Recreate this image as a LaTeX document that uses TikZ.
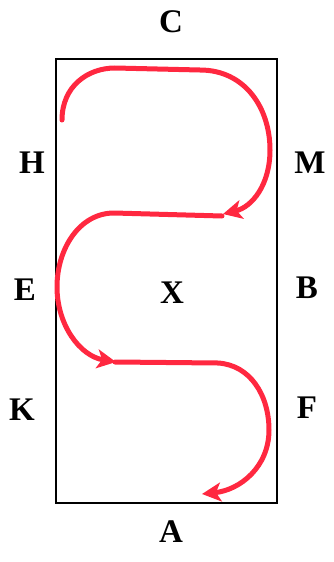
\documentclass[tikz,border=0pt]{standalone}
\usepackage{fontspec}
\setmainfont{Liberation Serif}
\usetikzlibrary{arrows.meta}
\definecolor{redpath}{RGB}{255,40,64}
\tikzset{
  lbl/.style={font=\fontsize{33}{33}\selectfont\bfseries, inner sep=0pt},
  route/.style={draw=redpath, line width=5pt, line cap=round},
  routearrow/.style={route, -{Stealth[length=19pt,width=19pt,inset=5pt]}},
  arena/.style={draw=black, line width=2.5pt}
}
\begin{document}
\begin{tikzpicture}[x=1pt,y=-1pt]
\useasboundingbox (0,0) rectangle (333,562);
\draw[arena] (56,59) rectangle (277,503);
\node[lbl] (C) at (171,22) {C};
\node[lbl] (H) at (32,163) {H};
\node[lbl] (M) at (310,163) {M};
\node[lbl] (E) at (25,290) {E};
\node[lbl] (X) at (172,293) {X};
\node[lbl] (B) at (307,288) {B};
\node[lbl] (K) at (22,410) {K};
\node[lbl] (F) at (307,408) {F};
\node[lbl] (A) at (171,532) {A};
\draw[routearrow] (62,120) .. controls (62,86) and (88,68) .. (115,68) -- (200,70)
  .. controls (245,70) and (270,108) .. (270,150)
  .. controls (270,185) and (252,207) .. (223,214);
\draw[routearrow] (222,216) -- (114,213)
  .. controls (80,213) and (57,248) .. (57,287)
  .. controls (57,325) and (80,356) .. (116,362);
\draw[routearrow] (115,362) -- (218,363)
  .. controls (250,365) and (269,395) .. (269,430)
  .. controls (269,467) and (240,490) .. (202,494);
\end{tikzpicture}
\end{document}
